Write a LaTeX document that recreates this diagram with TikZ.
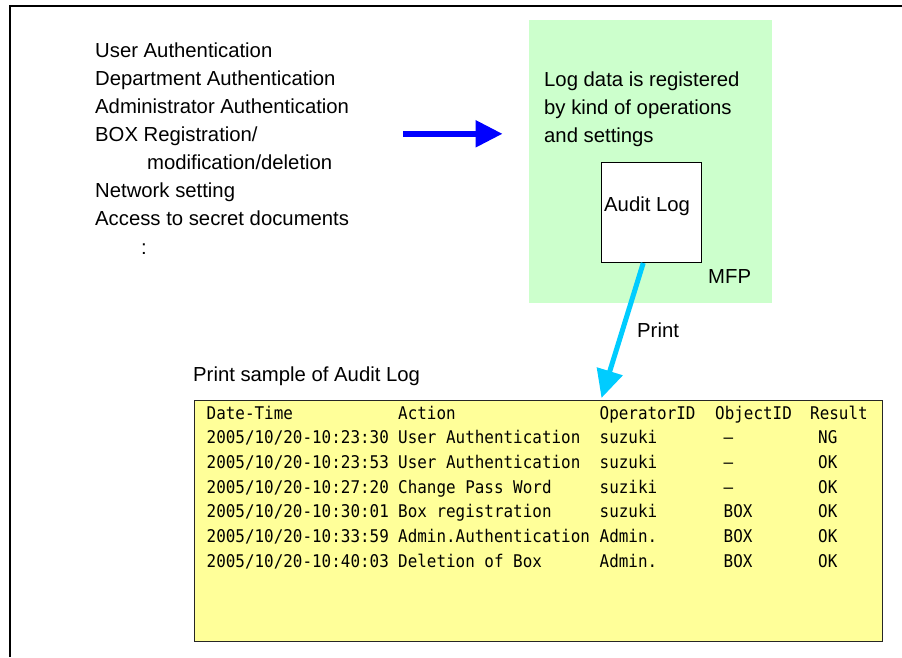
\documentclass[tikz,border=0pt]{standalone}
\usepackage{fontspec}
\setmainfont{Liberation Sans}
\newfontfamily\tablefont[FakeStretch=0.91]{DejaVu Sans Mono}
\usetikzlibrary{arrows.meta}
\definecolor{mfpgreen}{HTML}{CCFFCC}
\definecolor{logyellow}{HTML}{FFFF99}
\definecolor{printcyan}{HTML}{00CCFF}
\definecolor{opblue}{HTML}{0000FF}
\begin{document}
\begin{tikzpicture}[x=1pt,y=-1pt,
  txt/.style={anchor=base west, inner sep=0pt, font=\fontsize{20.3}{24}\selectfont},
  tbl/.style={anchor=base west, inner sep=0pt, font=\tablefont\fontsize{17.5}{20}\selectfont},
  area/.style={anchor=north west, inner sep=0pt, draw=none},
  flow/.style={line width=5.5pt, -{Triangle[length=27pt,width=26pt]}}]
\useasboundingbox (0,0) rectangle (902,657);
\fill[white] (0,0) rectangle (902,657);
% frame
\draw[line width=2pt] (10,657) -- (10,5.7) -- (902,5.7);

% left list
\node[txt] (op1) at (95,57) {User Authentication};
\node[txt] (op2) at (95,85) {Department Authentication};
\node[txt] (op3) at (95,113) {Administrator Authentication};
\node[txt] (op4) at (95,141) {BOX Registration/};
\node[txt] (op5) at (147,169) {modification/deletion};
\node[txt] (op6) at (95,197) {Network setting};
\node[txt] (op7) at (95,225) {Access to secret documents};
\node[txt] (op8) at (141,254) {:};

% MFP area
\node[area, fill=mfpgreen, minimum width=243pt, minimum height=283pt] (mfp) at (529,19.5) {};
\node[txt] (g1) at (544,86) {Log data is registered};
\node[txt] (g2) at (544,114) {by kind of operations};
\node[txt] (g3) at (544,142) {and settings};
\node[area, draw=black, line width=1.5pt, fill=white, minimum width=100pt, minimum height=100pt] (audit) at (600.5,161.5) {};
\node[txt] (auditlbl) at (604,211) {Audit Log};
\node[txt] (mfplbl) at (708,283) {MFP};

% blue arrow
\coordinate (bstart) at (403,133.8);
\coordinate (bend) at (502.5,133.8);
\draw[flow, opblue] (bstart) -- (bend);

% log table
\node[txt] (sample) at (193,381) {Print sample of Audit Log};
\node[area, draw=black!85, line width=1.5pt, fill=logyellow, minimum width=688pt, minimum height=241pt] (log) at (193.5,399.5) {};

% cyan print arrow
\coordinate (cstart) at ([xshift=-8pt]audit.south);
\coordinate (cend) at (601.5,398);
\draw[printcyan, line width=5pt, -{Triangle[length=28pt,width=26pt]}] (cstart) -- (cend);
\node[txt] (printlbl) at (637,337) {Print};

% table text
\node[tbl] (h1) at (206.5,419) {Date-Time};
\node[tbl] (h2) at (398,419) {Action};
\node[tbl] (h3) at (599.5,419) {OperatorID};
\node[tbl] (h4) at (715,419) {ObjectID};
\node[tbl] (h5) at (810,419) {Result};
\foreach \da/\ac/\op/\ob/\re [count=\i] in {
  {2005/10/20-10:23:30}/{User Authentication}/suzuki/{–}/NG,
  {2005/10/20-10:23:53}/{User Authentication}/suzuki/{–}/OK,
  {2005/10/20-10:27:20}/{Change Pass Word}/suziki/{–}/OK,
  {2005/10/20-10:30:01}/{Box registration}/suzuki/BOX/OK,
  {2005/10/20-10:33:59}/{Admin.Authentication}/Admin./BOX/OK,
  {2005/10/20-10:40:03}/{Deletion of Box}/Admin./BOX/OK}{
  \pgfmathsetmacro{\yy}{419+24.7*\i}
  \node[tbl] (r\i a) at (206.5,\yy) {\da};
  \node[tbl] (r\i b) at (398,\yy) {\ac};
  \node[tbl] (r\i c) at (599.5,\yy) {\op};
  \node[tbl] (r\i d) at (723.5,\yy) {\ob};
  \node[tbl] (r\i e) at (818,\yy) {\re};
}
\end{tikzpicture}
\end{document}
